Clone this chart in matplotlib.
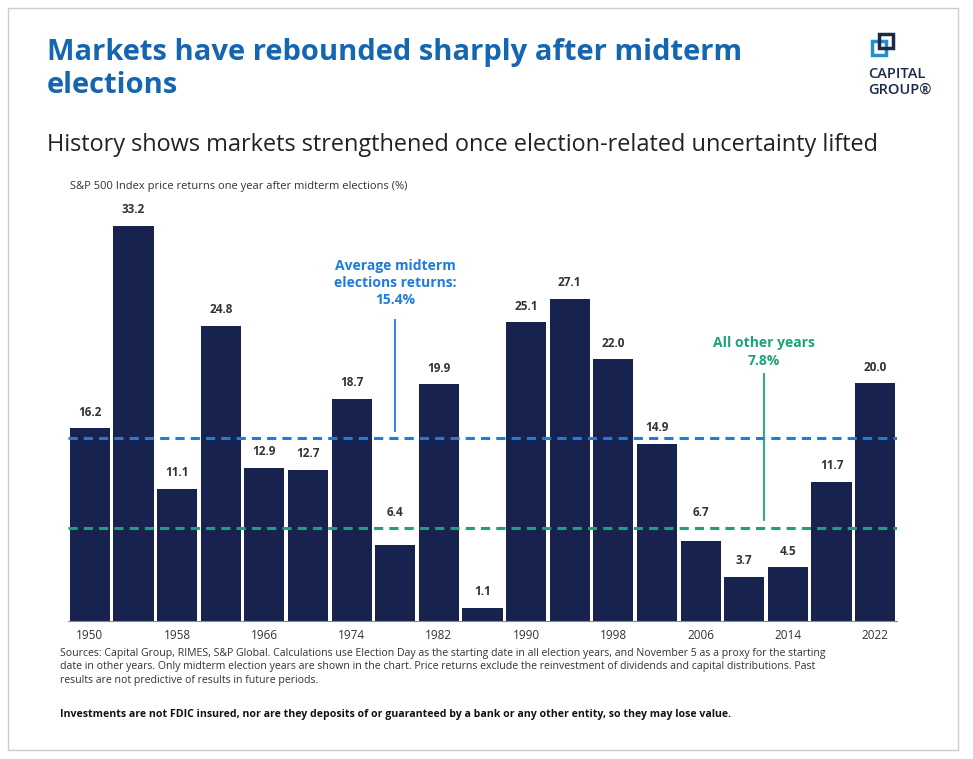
import matplotlib
matplotlib.use("Agg")
import matplotlib.pyplot as plt
from matplotlib.patches import Rectangle

years = list(range(1950, 2023, 4))
values = [16.2, 33.2, 11.1, 24.8, 12.9, 12.7, 18.7, 6.4, 19.9, 1.1, 25.1, 27.1, 22.0, 14.9, 6.7, 3.7, 4.5, 11.7, 20.0]
avg_midterm = 15.4
avg_other = 7.8
tick_years = years[::2]

W, H = 973, 759
fig = plt.figure(figsize=(W/100, H/100), dpi=100)
fig.patch.set_facecolor("white")
plt.rcParams['font.family'] = ['Open Sans', 'DejaVu Sans']

navy = "#18224f"
blue = "#1f7be0"
green = "#1aa37a"

fig.add_artist(Rectangle((8/W, 1-750/H), 950/W, 742/H, transform=fig.transFigure,
                         fill=False, ec="#cccccc", lw=1))

fig.text(47/W, 1-38/H, "Markets have rebounded sharply after midterm\nelections", fontsize=21,
         fontweight="bold", color="#1566b0", va="top", linespacing=1.2)
fig.text(47/W, 1-145/H, "History shows markets strengthened once election-related uncertainty lifted",
         fontsize=16.9, color="#222222", va="center")
fig.text(70/W, 1-186/H, "S&P 500 Index price returns one year after midterm elections (%)",
         fontsize=8, color="#333333", va="center")
fig.text(868/W, 1-82/H, "CAPITAL\nGROUP\u00ae", fontsize=10.5, fontweight="semibold", color="#1a2a4a",
         va="center", linespacing=1.1)
fig.add_artist(Rectangle((872/W, 1-55/H), 14/W, 14/H, transform=fig.transFigure, fill=False, ec="#2a8fc7", lw=2.5))
fig.add_artist(Rectangle((879/W, 1-48/H), 14/W, 14/H, transform=fig.transFigure, fill=False, ec="#1a2a4a", lw=2.5))

ax = fig.add_axes([68/W, 1-621/H, 829/W, 395/H])
x = list(range(len(values)))
ax.bar(x, values, width=0.92, color=navy)
for xi, v in zip(x, values):
    base = v
    if avg_other - 2 < v < avg_other:
        base = avg_other
    ax.text(xi, base + 0.8, f"{v:.1f}", ha="center", va="bottom", fontsize=8.5, fontweight="bold", color="#333333")
ax.set_xlim(-0.5, len(values) - 0.5)
ax.set_ylim(0, 33.2)
ax.axhline(avg_midterm, color=blue, lw=2.2, ls=(0, (3, 2)))
ax.axhline(avg_other, color=green, lw=2.2, ls=(0, (3, 2)))
ax.set_xticks([x[years.index(y)] for y in tick_years])
ax.set_xticklabels(tick_years, fontsize=8.5, color="#333333")
ax.tick_params(axis="x", length=0, pad=6)
ax.set_yticks([])
for s in ["top", "right", "left"]:
    ax.spines[s].set_visible(False)
ax.spines["bottom"].set_color("#888888")

ax.text(7.0, 28.4, "Average midterm\nelections returns:\n15.4%", ha="center", va="center",
        fontsize=10, fontweight="bold", color=blue, linespacing=1.3)
ax.plot([7.0, 7.0], [16.0, 25.3], color=blue, lw=1.3)
ax.text(15.45, 22.6, "All other years\n7.8%", ha="center", va="center",
        fontsize=10, fontweight="bold", color=green, linespacing=1.3)
ax.plot([15.45, 15.45], [8.5, 20.8], color=green, lw=1.3)

fig.text(60/W, 1-667/H, "Sources: Capital Group, RIMES, S&P Global. Calculations use Election Day as the starting date in all election years, and November 5 as a proxy for the starting\ndate in other years. Only midterm election years are shown in the chart. Price returns exclude the reinvestment of dividends and capital distributions. Past\nresults are not predictive of results in future periods.",
         fontsize=7.6, color="#333333", va="center", linespacing=1.3)
fig.text(60/W, 1-715/H, "Investments are not FDIC insured, nor are they deposits of or guaranteed by a bank or any other entity, so they may lose value.",
         fontsize=7.6, fontweight="bold", color="#111111", va="center")

fig.savefig("out.png", dpi=100)
